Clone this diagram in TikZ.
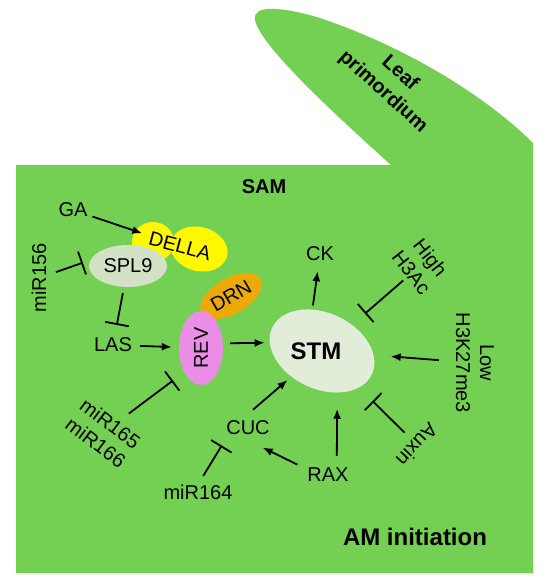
\documentclass[tikz,border=0pt]{standalone}
\usepackage{fontspec}
\setmainfont{Liberation Sans}
\usetikzlibrary{arrows.meta,shapes.geometric}

\definecolor{tissue}{RGB}{116,208,82}
\definecolor{della}{RGB}{255,248,0}
\definecolor{splgrey}{RGB}{211,226,196}
\definecolor{revpink}{RGB}{233,141,230}
\definecolor{drnorange}{RGB}{235,170,10}
\definecolor{stmpale}{RGB}{226,237,217}

\tikzset{
  lbl/.style={inner sep=0pt,font=\fontsize{20}{24}\selectfont},
  title/.style={inner sep=0pt,font=\fontsize{20}{24}\selectfont\bfseries},
  blob/.style={ellipse,inner sep=0pt,font=\fontsize{20}{24}\selectfont},
  act/.style={-{Latex[length=10pt,width=8pt]},line width=1.8pt},
  inh/.style={-{Bar[width=24pt]},line width=1.8pt},
}

\begin{document}
\begin{tikzpicture}[x=1pt,y=-1pt]
  \useasboundingbox (0,0) rectangle (550,588);
  % meristem and leaf
  \fill[tissue] (16,165) -- (391,165) .. controls (330,110) and (260,45) .. (255,20)
    .. controls (252,5) and (280,6) .. (320,18)
    .. controls (420,52) and (495,105) .. (533,143) -- (533,573) -- (16,573) -- cycle;
  \node[title] (sam) at (264,187) {SAM};
  \node[title,rotate=-42] (leaf) at (401,72) {Leaf};
  \node[title,rotate=-42] (prim) at (383,92) {primordium};
  \node[title,font=\fontsize{24}{28}\selectfont\bfseries] (am) at (415,537) {AM initiation};

  % factors
  \fill[della] (153,242) ellipse (21 and 20);
  \fill[della,rotate around={-15:(199,249)}] (199,249) ellipse (29 and 22);
  \node[blob,rotate=-15,minimum width=96pt,minimum height=44pt] (della) at (180,246) {DELLA};
  \node[blob,fill=splgrey,minimum width=78pt,minimum height=42pt] (spl) at (128,266) {SPL9};
  \node[blob,fill=drnorange,rotate=30,minimum width=68pt,minimum height=36pt] (drn) at (231,296) {DRN};
  \node[blob,fill=revpink,minimum width=44pt,minimum height=74pt] (rev) at (201,348) {\rotatebox{90}{REV}};
  \node[blob,fill=stmpale,rotate=-25,minimum width=110pt,minimum height=76pt] (stm) at (322,351)
    {\rotatebox{25}{\fontsize{24}{28}\selectfont\bfseries STM\hspace*{12pt}}};

  \node[lbl] (ga) at (73,210) {GA};
  \node[lbl,rotate=90] (mir156) at (39,278) {miR156};
  \node[lbl] (las) at (113,345) {LAS};
  \node[lbl,rotate=-37,align=center] (mir165) at (103,433) {miR165\\miR166};
  \node[lbl] (cuc) at (248,428) {CUC};
  \node[lbl] (mir164) at (198,492) {miR164};
  \node[lbl] (rax) at (328,475) {RAX};
  \node[lbl] (ck) at (320,254) {CK};
  \node[lbl,rotate=-52,align=center] (h3ac) at (421,265) {High\\H3Ac};
  \node[lbl,rotate=-90,align=center] (h3k27) at (475,363) {Low\\H3K27me3};
  \node[lbl,rotate=-133] (auxin) at (417,445) {Auxin};

  % regulation
  \draw[act,shorten <=5pt,shorten >=-8pt] (ga) -- (della);
  \draw[inh,shorten <=10pt,shorten >=8pt] (mir156) -- (spl.171);
  \draw[inh,shorten <=6pt,shorten >=13pt] (spl) -- (las);
  \draw[act,shorten <=8pt,shorten >=7pt] (las) -- (rev);
  \draw[act,shorten <=7pt,shorten >=5pt] (rev.12) -- (stm.196);
  \draw[inh,shorten <=12pt,shorten >=14pt] (mir165) -- (rev.235);
  \draw[act,shorten <=4pt,shorten >=10pt] (stm.128) -- (ck);
  \draw[inh,shorten <=4pt,shorten >=17pt] (h3ac) -- (stm);
  \draw[act,shorten <=17pt,shorten >=17pt] (h3k27) -- (stm);
  \draw[inh,shorten <=10pt,shorten >=19pt] (auxin) -- (stm);
  \draw[act,shorten <=12pt,shorten >=16pt] (rax.39) -- (stm.-45);
  \draw[act,shorten <=17pt,shorten >=5pt] (cuc.137) -- (stm.245);
  \draw[inh,shorten <=10pt,shorten >=12pt] (mir164.north) -- (cuc.200);
  \draw[act,shorten <=11pt,shorten >=28pt] (rax.165) -- (cuc.215);
\end{tikzpicture}
\end{document}
